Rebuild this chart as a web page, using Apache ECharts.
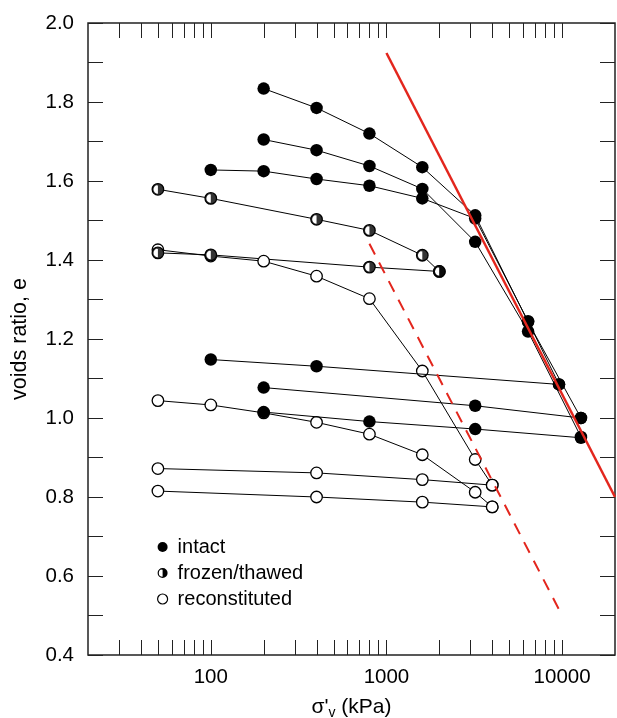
<!DOCTYPE html>
<html>
<head>
<meta charset="utf-8">
<script src="https://cdn.jsdelivr.net/npm/echarts@6/dist/echarts.min.js"></script>
<style>
  html, body { margin: 0; padding: 0; background: #fff; }
  #chart { width: 617px; height: 718px; }
</style>
</head>
<body>
<div id="chart"></div>
<script>
// Oedometer compression curves: voids ratio against vertical effective stress (log scale)

// intact specimens
const intact1X = [200, 400, 800, 1600, 3200, 6400, 12800];
const intact1E = [1.834, 1.785, 1.72, 1.635, 1.513, 1.243, 1.0];
const intact2X = [200, 400, 800, 1600, 3200, 6400, 12800];
const intact2E = [1.705, 1.678, 1.638, 1.58, 1.446, 1.219, 0.952];
const intact3X = [100, 200, 400, 800, 1600, 3200, 6400, 9600];
const intact3E = [1.628, 1.625, 1.605, 1.588, 1.556, 1.505, 1.245, 1.085];
const intact4X = [100, 400, 9600];
const intact4E = [1.148, 1.131, 1.085];
const intact5X = [200, 3200, 12800];
const intact5E = [1.077, 1.031, 1.0];
const intact6X = [200, 800, 3200, 12800];
const intact6E = [1.015, 0.991, 0.972, 0.95];

// frozen/thawed specimens
const frozen1X = [50, 100, 400, 800, 1600, 2000];
const frozen1E = [1.579, 1.556, 1.503, 1.475, 1.412, 1.371];
const frozen2X = [50, 100, 800, 2000];
const frozen2E = [1.418, 1.413, 1.382, 1.371];

// reconstituted specimens
const recon1X = [50, 100, 200, 400, 800, 1600, 3200, 4000];
const recon1E = [1.044, 1.033, 1.013, 0.989, 0.959, 0.907, 0.812, 0.775];
const recon2X = [50, 100, 200, 400, 800, 1600, 3200, 4000];
const recon2E = [1.426, 1.41, 1.397, 1.359, 1.302, 1.119, 0.895, 0.83];
const recon3X = [50, 400, 1600, 4000];
const recon3E = [0.872, 0.861, 0.844, 0.83];
const recon4X = [50, 400, 1600, 4000];
const recon4E = [0.815, 0.8, 0.787, 0.775];

// compression lines
const nclSolidX = [1000, 20000];
const nclSolidE = [1.924, 0.8];
const nclDashedX = [800, 10000];
const nclDashedE = [1.441, 0.5];

// axis ticks and labels
const xTickValues = [30, 40, 50, 60, 70, 80, 90, 100, 200, 300, 400, 500, 600, 700, 800, 900,
                     1000, 2000, 3000, 4000, 5000, 6000, 7000, 8000, 9000, 10000];
const xTickLabels = [100, 1000, 10000];

const FONT = 'Liberation Sans, Arial, Helvetica, sans-serif';
const RED = '#e3261d';
const HALF_PATH = 'path://M0,-10 A10,10 0 0,1 0,10 Z M0,-10 A10,10 0 0,0 0,10 L0,7.6 A7.6,7.6 0 0,1 0,-7.6 Z';

const zip = (xs, ys) => xs.map((x, i) => [x, ys[i]]);

function curve(name, xs, ys, kind) {
  const s = {
    name: name,
    type: 'line',
    data: zip(xs, ys),
    showAllSymbol: true,
    symbol: 'circle',
    lineStyle: { color: '#000', width: 1 },
    emphasis: { disabled: true },
    z: 3
  };
  if (kind === 'filled') {
    s.symbolSize = 12.5;
    s.itemStyle = { color: '#000', borderWidth: 0 };
    s.z = 5;
  } else {
    s.symbolSize = 11.5;
    s.itemStyle = { color: '#fff', borderColor: '#000', borderWidth: 1.3 };
  }
  return s;
}

const series = [
  curve('reconstituted', recon1X, recon1E, 'open'),
  curve('reconstituted', recon2X, recon2E, 'open'),
  curve('reconstituted', recon3X, recon3E, 'open'),
  curve('reconstituted', recon4X, recon4E, 'open'),
  curve('frozen/thawed', frozen1X, frozen1E, 'open'),
  curve('frozen/thawed', frozen2X, frozen2E, 'open'),
  {
    name: 'frozen/thawed',
    type: 'scatter',
    data: zip(frozen1X, frozen1E).concat(zip(frozen2X, frozen2E)),
    symbol: HALF_PATH,
    symbolSize: 11.5,
    itemStyle: { color: '#000' },
    emphasis: { disabled: true },
    z: 4
  },
  curve('intact', intact1X, intact1E, 'filled'),
  curve('intact', intact2X, intact2E, 'filled'),
  curve('intact', intact3X, intact3E, 'filled'),
  curve('intact', intact4X, intact4E, 'filled'),
  curve('intact', intact5X, intact5E, 'filled'),
  curve('intact', intact6X, intact6E, 'filled'),
  {
    name: 'ncl',
    type: 'line',
    data: zip(nclSolidX, nclSolidE),
    symbol: 'none',
    lineStyle: { color: RED, width: 2.5 },
    emphasis: { disabled: true },
    z: 6
  },
  {
    name: 'ncl-reconstituted',
    type: 'line',
    data: zip(nclDashedX, nclDashedE),
    symbol: 'none',
    lineStyle: { color: RED, width: 2, type: [12, 9] },
    emphasis: { disabled: true },
    z: 6
  },
  {
    // ticks along the top and bottom edges of the log axis
    name: 'xticks',
    type: 'custom',
    data: xTickValues.map(v => [v, 1]),
    silent: true,
    clip: false,
    z: 10,
    renderItem: function (params, api) {
      const cs = params.coordSys;
      const x = Math.round(api.coord([api.value(0), 1])[0]) + 0.5;
      const yb = cs.y + cs.height;
      const yt = cs.y;
      const style = { stroke: '#222', lineWidth: 1 };
      return {
        type: 'group',
        children: [
          { type: 'line', shape: { x1: x, y1: yb, x2: x, y2: yb - 15 }, style: style },
          { type: 'line', shape: { x1: x, y1: yt, x2: x, y2: yt + 15 }, style: style }
        ]
      };
    }
  }
];

const yCommon = {
  type: 'value',
  min: 0.4,
  max: 2.0,
  interval: 0.1,
  axisLine: { show: false },
  splitLine: { show: false },
  axisTick: { show: true, inside: true, length: 15, lineStyle: { color: '#222', width: 1 } }
};

const option = {
  animation: false,
  backgroundColor: '#fff',
  textStyle: { fontFamily: FONT },
  grid: {
    left: 88, right: 2, top: 23, bottom: 63,
    containLabel: false,
    outerBoundsMode: 'none',
    show: true, borderColor: '#222', borderWidth: 1.5, backgroundColor: 'transparent'
  },
  legend: {
    orient: 'vertical',
    left: 152,
    top: 532,
    itemWidth: 10,
    itemHeight: 10,
    itemGap: 6,
    selectedMode: false,
    textStyle: { fontFamily: FONT, fontSize: 20, color: '#000', padding: [0, 0, 0, 5] },
    data: [
      { name: 'intact', icon: 'circle', itemStyle: { color: '#000', borderWidth: 0 } },
      { name: 'frozen/thawed', icon: HALF_PATH, itemStyle: { color: '#000', borderWidth: 0 } },
      { name: 'reconstituted', icon: 'circle', itemStyle: { color: '#fff', borderColor: '#000', borderWidth: 1.2 } }
    ]
  },
  xAxis: {
    type: 'log',
    logBase: 10,
    min: 20,
    max: 20000,
    axisLine: { show: false },
    axisTick: { show: false },
    splitLine: { show: false },
    minorTick: { show: false },
    axisLabel: {
      showMinLabel: false,
      showMaxLabel: false,
      margin: 12,
      fontFamily: FONT,
      fontSize: 20.5,
      color: '#000',
      formatter: function (v) {
        const r = Math.round(v);
        return xTickLabels.some(t => Math.abs(t - v) / t < 1e-6) ? String(r) : '';
      }
    },
    name: "σ'{s|v} (kPa)",
    nameLocation: 'middle',
    nameGap: 40,
    nameTextStyle: {
      fontFamily: FONT,
      fontSize: 21,
      color: '#000',
      rich: {
        s: { fontFamily: FONT, fontSize: 14, color: '#000', padding: [11, 0, 0, 0] }
      }
    }
  },
  yAxis: [
    Object.assign({}, yCommon, {
      position: 'left',
      axisLabel: {
        margin: 14,
        fontFamily: FONT,
        fontSize: 20.5,
        color: '#000',
        formatter: function (v) {
          const k = Math.round(v * 10);
          return k % 2 === 0 ? v.toFixed(1) : '';
        }
      },
      name: 'voids ratio, e',
      nameLocation: 'middle',
      nameRotate: 90,
      nameGap: 57,
      nameTextStyle: { fontFamily: FONT, fontSize: 21.5, color: '#000' }
    }),
    Object.assign({}, yCommon, {
      position: 'right',
      axisLabel: { show: false }
    })
  ],
  series: series
};

const chart = echarts.init(document.getElementById('chart'), null, { renderer: 'canvas' });
chart.setOption(option);
</script>
</body>
</html>
